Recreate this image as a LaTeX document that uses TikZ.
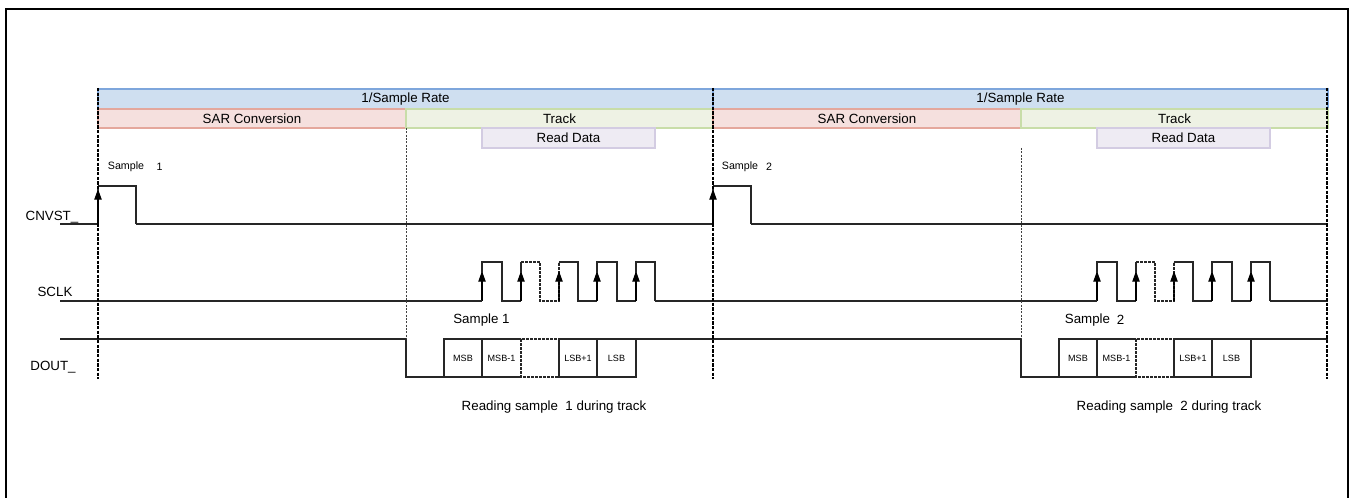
\documentclass[tikz,border=0pt]{standalone}
\usepackage{fontspec}
\setmainfont{Liberation Sans}
\usetikzlibrary{arrows.meta}
\definecolor{bluefill}{HTML}{CFDFF0}
\definecolor{blueline}{HTML}{7EA6DC}
\definecolor{redfill}{HTML}{F5E0DE}
\definecolor{redline}{HTML}{E4A79C}
\definecolor{greenfill}{HTML}{EEF2E4}
\definecolor{greenline}{HTML}{C8DDA8}
\definecolor{lavfill}{HTML}{EEEBF3}
\definecolor{lavline}{HTML}{D3CCE2}
\tikzset{
  sig/.style={line width=0.9pt, black!85},
  sigdash/.style={line width=0.9pt, black!85, dash pattern=on 2pt off 1pt},
  edgearrow/.style={-{Triangle[length=8pt,width=5.5pt]}, line width=0.9pt, black},
  bigdash/.style={line width=1.4pt, black, dash pattern=on 2.5pt off 1pt},
  thindash/.style={line width=0.6pt, black!75, dash pattern=on 1.5pt off 1pt},
  lbl/.style={inner sep=0pt, font=\fontsize{10}{12}\selectfont},
  small/.style={inner sep=0pt, font=\fontsize{8}{10}\selectfont},
  tiny/.style={inner sep=0pt, font=\fontsize{6.8}{8}\selectfont},
  bar/.style={line width=0.9pt},
}
\begin{document}
\begin{tikzpicture}[x=0.75pt,y=-0.75pt]
\useasboundingbox (0,0) rectangle (1351,498);
% outer frame
\draw[line width=1.5pt, black] (6,506) -- (6,9) -- (1348,9) -- (1348,506);

% labels of signals
\node[lbl] (cnvst) at (52,217) {CNVST\_};
\node[lbl] (sclk) at (55,292) {SCLK};
\node[lbl] (dout) at (53,367) {DOUT\_};

\foreach \o/\n in {0/1,615/2}{
  % bars
  \draw[bar, draw=blueline, fill=bluefill] ({98+\o},89) rectangle ({713+\o},109);
  \node[lbl] (rate\n) at ({405.5+\o},99) {1/Sample Rate};
  \draw[bar, draw=redline, fill=redfill] ({98+\o},109) rectangle ({406+\o},128);
  \node[lbl] (sar\n) at ({252+\o},118.5) {SAR Conversion};
  \draw[bar, draw=greenline, fill=greenfill] ({406+\o},109) rectangle ({713+\o},128);
  \node[lbl] (track\n) at ({559.5+\o},118.5) {Track};
  \draw[bar, draw=lavline, fill=lavfill] ({482+\o},128) rectangle ({655+\o},148);
  \node[lbl] (read\n) at ({568.5+\o},138) {Read Data};

  % CNVST pulse
  \draw[sig] ({98+\o},186) -- ({136+\o},186) -- ({136+\o},224);
  \draw[edgearrow] ({98+\o},224) -- ({98+\o},189);
  \draw[sig] ({98+\o},191) -- ({98+\o},186);

  % SCLK pulses
  \draw[edgearrow] ({482+\o},301) -- ({482+\o},271);
  \draw[sig] ({482+\o},273) -- ({482+\o},262) -- ({502+\o},262) -- ({502+\o},301) -- ({521+\o},301);
  \draw[edgearrow] ({521+\o},301) -- ({521+\o},271);
  \draw[sig] ({521+\o},273) -- ({521+\o},262);
  \draw[sigdash] ({521+\o},262) -- ({540+\o},262) -- ({540+\o},301) -- ({559+\o},301) -- ({559+\o},262);
  \draw[edgearrow, dash pattern=on 2pt off 1pt] ({559+\o},301) -- ({559+\o},271);
  \draw[sig] ({559+\o},262) -- ({578+\o},262) -- ({578+\o},301) -- ({597+\o},301);
  \draw[edgearrow] ({597+\o},301) -- ({597+\o},271);
  \draw[sig] ({597+\o},273) -- ({597+\o},262) -- ({617+\o},262) -- ({617+\o},301) -- ({636+\o},301);
  \draw[edgearrow] ({636+\o},301) -- ({636+\o},271);
  \draw[sig] ({636+\o},273) -- ({636+\o},262) -- ({655+\o},262) -- ({655+\o},301);

  % DOUT
  \draw[sig] ({406+\o},339) -- ({406+\o},377) -- ({444+\o},377);
  \draw[sig] ({444+\o},339) rectangle ({482+\o},377);
  \draw[sig] ({521+\o},339) -- ({482+\o},339) -- ({482+\o},377) -- ({521+\o},377);
  \draw[sigdash] ({521+\o},339) rectangle ({559+\o},377);
  \draw[sig] ({559+\o},339) rectangle ({597+\o},377);
  \draw[sig] ({597+\o},339) rectangle ({636+\o},377);
  \node[tiny] (msb\n) at ({463+\o},358) {MSB};
  \node[tiny] (msbm\n) at ({501.5+\o},358) {MSB-1};
  \node[tiny] (lsbp\n) at ({578+\o},358) {LSB+1};
  \node[tiny] (lsb\n) at ({616.5+\o},358) {LSB};

  \node[lbl] (reading\n) at ({554+\o},407) {Reading sample \ \n{} during track};
}

% long signal lines
\draw[sig] (60,224) -- (98,224);
\draw[sig] (136,224) -- (713,224);
\draw[sig] (751,224) -- (1328,224);
\draw[sig] (60,301) -- (482,301);
\draw[sig] (655,301) -- (1097,301);
\draw[sig] (1270,301) -- (1328,301);
\draw[sig] (60,339) -- (406,339);
\draw[sig] (636,339) -- (1021,339);
\draw[sig] (1251,339) -- (1328,339);

% sample labels
\node[small] (s1a) at (126,167) {Sample};
\node[small] (s1b) at (159.5,167) {1};
\node[small] (s2a) at (740,167) {Sample};
\node[small] (s2b) at (769,167) {2};
\node[lbl] (d1) at (481.5,320) {Sample 1};
\node[lbl] (d2a) at (1087.5,320) {Sample};
\node[lbl] (d2b) at (1120.5,320) {2};

% vertical dashed lines
\draw[bigdash] (98,88) -- (98,379);
\draw[bigdash] (713,88) -- (713,379);
\draw[bigdash] (1327,88) -- (1327,379);
\draw[thindash] (406,128) -- (406,339);
\draw[thindash] (1021,148) -- (1021,339);
\end{tikzpicture}
\end{document}
